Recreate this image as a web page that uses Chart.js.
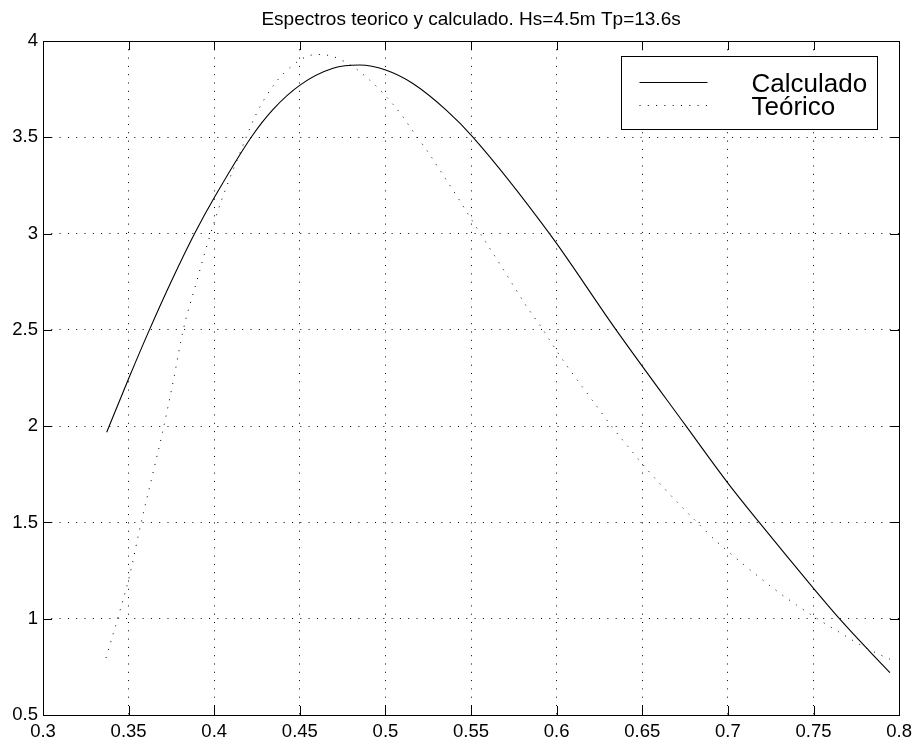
<!DOCTYPE html>
<html>
<head>
<meta charset="utf-8">
<script src="https://cdn.jsdelivr.net/npm/chart.js@4/dist/chart.umd.min.js"></script>
<style>
  html, body { margin: 0; padding: 0; background: #fff; }
  canvas { display: block; }
</style>
</head>
<body>
<canvas id="c" width="918" height="747"></canvas>
<script>
// Wave spectra: computed vs theoretical
const titleText = 'Espectros teorico y calculado. Hs=4.5m Tp=13.6s';
const seriesNames = ['Calculado', 'Teórico'];

const calcX = [0.3372, 0.3504, 0.3624, 0.3751, 0.3887, 0.4003, 0.4218, 0.4344, 0.4501, 0.4694,
               0.4849, 0.5001, 0.5160, 0.5355, 0.5512, 0.5958, 0.6347, 0.6756, 0.7001, 0.7183,
               0.7500, 0.7646, 0.7825, 0.7946];
const calcY = [1.968, 2.255, 2.505, 2.755, 3.003, 3.191, 3.503, 3.645, 3.771, 3.858,
               3.875, 3.849, 3.779, 3.641, 3.500, 3.000, 2.500, 2.000, 1.703, 1.500,
               1.158, 1.006, 0.833, 0.720];

const teoX = [0.3368, 0.3439, 0.3504, 0.3572, 0.3640, 0.3698, 0.3762, 0.3819, 0.3897, 0.3965,
              0.4043, 0.4149, 0.4247, 0.4354, 0.4460, 0.4548, 0.4620, 0.4694, 0.4743, 0.4826,
              0.4904, 0.4982, 0.5080, 0.5170, 0.5258, 0.5341, 0.5423, 0.5501, 0.5585, 0.5666,
              0.5748, 0.5828, 0.5915, 0.5974, 0.6059, 0.6149, 0.6240, 0.6327, 0.6425, 0.6522,
              0.6623, 0.6726, 0.6833, 0.6940, 0.7041, 0.7160, 0.7278, 0.7401, 0.7529, 0.7656,
              0.7786, 0.7878, 0.7946];
const teoY = [0.796, 1.010, 1.218, 1.495, 1.749, 1.968, 2.240, 2.499, 2.750, 2.960,
              3.174, 3.416, 3.624, 3.779, 3.875, 3.922, 3.930, 3.919, 3.901, 3.857,
              3.800, 3.733, 3.632, 3.520, 3.411, 3.298, 3.186, 3.075, 2.957, 2.845,
              2.729, 2.617, 2.508, 2.426, 2.314, 2.205, 2.096, 1.992, 1.885, 1.781,
              1.682, 1.585, 1.489, 1.396, 1.319, 1.232, 1.149, 1.071, 0.996, 0.927,
              0.858, 0.817, 0.790];

const xTicks = [0.3, 0.35, 0.4, 0.45, 0.5, 0.55, 0.6, 0.65, 0.7, 0.75, 0.8];
const yTicks = [0.5, 1, 1.5, 2, 2.5, 3, 3.5, 4];

const FONT = '"Liberation Sans", Arial, Helvetica, sans-serif';
const DOTS = [1, 7.3];

const toPoints = (xs, ys) => xs.map((x, i) => ({ x: x, y: ys[i] }));

// Frame, inward tick marks, title and boxed legend
const decorations = {
  id: 'decorations',
  afterDatasetsDraw(chart) {
    const ctx = chart.ctx;
    const a = chart.chartArea;
    const xs = chart.scales.x, ys = chart.scales.y;
    const tick = 9;
    ctx.save();
    ctx.strokeStyle = '#000';
    ctx.lineWidth = 1;
    ctx.setLineDash([]);
    ctx.beginPath();
    xTicks.forEach(v => {
      const px = Math.round(xs.getPixelForValue(v)) + 0.5;
      ctx.moveTo(px, a.top); ctx.lineTo(px, a.top + tick);
      ctx.moveTo(px, a.bottom); ctx.lineTo(px, a.bottom - tick);
    });
    yTicks.forEach(v => {
      const py = Math.round(ys.getPixelForValue(v)) + 0.5;
      ctx.moveTo(a.left, py); ctx.lineTo(a.left + tick, py);
      ctx.moveTo(a.right, py); ctx.lineTo(a.right - tick, py);
    });
    ctx.stroke();
    ctx.strokeRect(Math.round(a.left) + 0.5, Math.round(a.top) + 0.5,
                   Math.round(a.right - a.left), Math.round(a.bottom - a.top));

    // title
    ctx.fillStyle = '#000';
    ctx.font = '19px ' + FONT;
    ctx.textAlign = 'center';
    ctx.textBaseline = 'alphabetic';
    ctx.fillText(titleText, (a.left + a.right) / 2, 25);

    // legend
    const bx = Math.round(a.right) - 278 + 0.5, by = Math.round(a.top) + 15 + 0.5;
    const bw = 256, bh = 73;
    ctx.fillStyle = '#fff';
    ctx.fillRect(bx, by, bw, bh);
    ctx.strokeStyle = '#000';
    ctx.strokeRect(bx, by, bw, bh);
    chart.data.datasets.forEach((ds, i) => {
      const ly = Math.round(by + 25 + i * 23) + 0.5;
      ctx.save();
      ctx.strokeStyle = ds.borderColor;
      ctx.lineWidth = ds.borderWidth;
      ctx.setLineDash(ds.borderDash || []);
      ctx.beginPath();
      ctx.moveTo(bx + 18, ly);
      ctx.lineTo(bx + 86, ly);
      ctx.stroke();
      ctx.restore();
      ctx.fillStyle = '#000';
      ctx.font = '26px ' + FONT;
      ctx.textAlign = 'left';
      ctx.textBaseline = 'alphabetic';
      ctx.fillText(ds.label, bx + 130, ly + 9.5);
    });
    ctx.restore();
  }
};

const tickFont = { family: FONT, size: 18.5 };

new Chart(document.getElementById('c'), {
  type: 'line',
  data: {
    datasets: [
      {
        label: seriesNames[0],
        data: toPoints(calcX, calcY),
        borderColor: '#000',
        borderWidth: 1.1,
        pointRadius: 0,
        cubicInterpolationMode: 'monotone',
        fill: false
      },
      {
        label: seriesNames[1],
        data: toPoints(teoX, teoY),
        borderColor: '#000',
        borderWidth: 1,
        borderDash: DOTS,
        pointRadius: 0,
        cubicInterpolationMode: 'monotone',
        fill: false
      }
    ]
  },
  options: {
    responsive: false,
    animation: false,
    devicePixelRatio: 1,
    layout: { padding: { top: 41, right: 18, left: 0, bottom: 0 } },
    plugins: {
      legend: { display: false },
      title: { display: false },
      tooltip: { enabled: false }
    },
    scales: {
      x: {
        type: 'linear',
        min: 0.3,
        max: 0.8,
        afterBuildTicks: s => { s.ticks = xTicks.map(v => ({ value: v })); },
        afterFit: s => { s.height = 32; },
        ticks: {
          autoSkip: false,
          maxRotation: 0,
          padding: 6,
          color: '#000',
          font: tickFont,
          callback: v => String(v)
        },
        grid: { color: '#000', lineWidth: 1, drawTicks: false, borderDash: DOTS },
        border: { display: false, dash: DOTS }
      },
      y: {
        type: 'linear',
        min: 0.5,
        max: 4,
        afterBuildTicks: s => { s.ticks = yTicks.map(v => ({ value: v })); },
        afterFit: s => { s.width = 43; },
        ticks: {
          autoSkip: false,
          padding: 5,
          color: '#000',
          font: tickFont,
          callback: v => String(v)
        },
        grid: { color: '#000', lineWidth: 1, drawTicks: false, borderDash: DOTS },
        border: { display: false, dash: DOTS }
      }
    }
  },
  plugins: [decorations]
});
</script>
</body>
</html>
